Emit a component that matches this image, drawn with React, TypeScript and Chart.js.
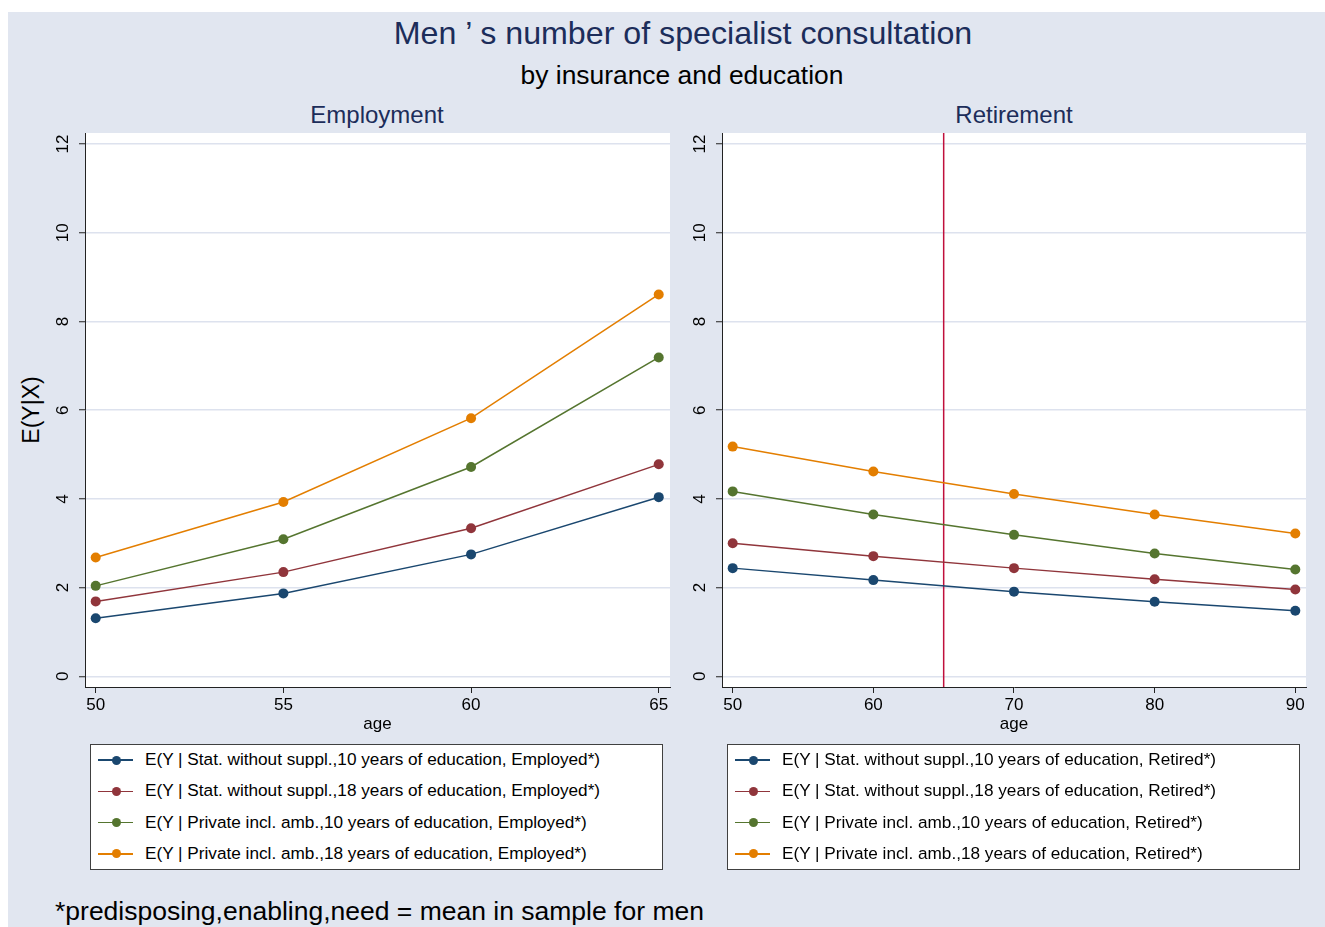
import React, { useEffect, useRef } from "react";
import { Chart, registerables } from "chart.js";
Chart.register(...registerables);

const FONT = '"Liberation Sans", Arial, Helvetica, sans-serif';

// ---- data ----
const employmentAges = [50, 55, 60, 65];
const retirementAges = [50, 60, 70, 80, 90];
const yTickValues = [0, 2, 4, 6, 8, 10, 12];
const retirementAgeLine = 65;

const empStat10 = [1.31, 1.87, 2.75, 4.04];
const empStat18 = [1.69, 2.35, 3.34, 4.78];
const empPriv10 = [2.04, 3.09, 4.72, 7.19];
const empPriv18 = [2.68, 3.93, 5.82, 8.61];

const retStat10 = [2.44, 2.17, 1.91, 1.68, 1.48];
const retStat18 = [3.0, 2.71, 2.44, 2.19, 1.96];
const retPriv10 = [4.17, 3.65, 3.19, 2.77, 2.41];
const retPriv18 = [5.18, 4.62, 4.11, 3.65, 3.22];

const seriesColors = ["#1a476f", "#90353b", "#55752f", "#e37e00"];

const empLabels = [
  "E(Y | Stat. without suppl.,10 years of education, Employed*)",
  "E(Y | Stat. without suppl.,18 years of education, Employed*)",
  "E(Y | Private incl. amb.,10 years of education, Employed*)",
  "E(Y | Private incl. amb.,18 years of education, Employed*)",
];
const retLabels = [
  "E(Y | Stat. without suppl.,10 years of education, Retired*)",
  "E(Y | Stat. without suppl.,18 years of education, Retired*)",
  "E(Y | Private incl. amb.,10 years of education, Retired*)",
  "E(Y | Private incl. amb.,18 years of education, Retired*)",
];

const BG = "#e1e6f0";
const GRID = "#dde2ee";
const AXIS = "#222222";
const NAVY_TEXT = "#1c2d5a";

type PanelProps = {
  left: number;
  width: number;
  yAxisWidth: number;
  padRight: number;
  ages: number[];
  series: number[][];
  labels: string[];
  xMin: number;
  xMax: number;
  xLine?: number;
};

function Panel(props: PanelProps) {
  const ref = useRef<HTMLCanvasElement | null>(null);
  useEffect(() => {
    if (!ref.current) return;
    const { ages, series, labels, xMin, xMax, xLine, yAxisWidth, padRight } = props;
    const plotBg = {
      id: "plotBg",
      beforeDraw(chart: any) {
        const { ctx, chartArea: a } = chart;
        ctx.save();
        ctx.fillStyle = "#ffffff";
        ctx.fillRect(a.left, a.top, a.right - a.left, a.bottom - a.top);
        ctx.restore();
      },
    };
    const vline = {
      id: "vline",
      beforeDatasetsDraw(chart: any) {
        if (xLine === undefined) return;
        const { ctx, chartArea: a } = chart;
        const x = chart.scales.x.getPixelForValue(xLine);
        ctx.save();
        ctx.strokeStyle = "#c0103c";
        ctx.lineWidth = 1.5;
        ctx.beginPath();
        ctx.moveTo(x, a.top);
        ctx.lineTo(x, a.bottom);
        ctx.stroke();
        ctx.restore();
      },
    };
    const yLabels = {
      id: "yLabels",
      afterDraw(chart: any) {
        const { ctx, chartArea: a } = chart;
        const y = chart.scales.y;
        ctx.save();
        ctx.fillStyle = "#000";
        ctx.font = `17px ${FONT}`;
        ctx.textAlign = "center";
        ctx.textBaseline = "middle";
        y.ticks.forEach((t: any) => {
          const py = y.getPixelForValue(t.value);
          ctx.save();
          ctx.translate(a.left - 22, py);
          ctx.rotate(-Math.PI / 2);
          ctx.fillText(String(t.value), 0, 0);
          ctx.restore();
        });
        ctx.restore();
      },
    };
    const chart = new Chart(ref.current, {
      type: "line",
      data: {
        datasets: series.map((s, i) => ({
          label: labels[i],
          data: ages.map((a, j) => ({ x: a, y: s[j] })),
          borderColor: seriesColors[i],
          backgroundColor: seriesColors[i],
          pointBackgroundColor: seriesColors[i],
          pointBorderWidth: 0,
          pointRadius: 5,
          borderWidth: 1.5,
          tension: 0,
        })),
      },
      options: {
        animation: false,
        responsive: false,
        events: [],
        layout: { padding: { top: 8, right: padRight, left: 0, bottom: 0 } },
        plugins: { legend: { display: false }, tooltip: { enabled: false }, title: { display: false } },
        scales: {
          x: {
            type: "linear",
            min: xMin,
            max: xMax,
            afterBuildTicks: (sc: any) => {
              sc.ticks = ages.map((v) => ({ value: v }));
            },
            afterFit: (sc: any) => {
              sc.height = 58;
            },
            grid: {
              drawOnChartArea: false,
              drawTicks: true,
              tickLength: 6,
              tickColor: AXIS,
              tickWidth: 1,
            },
            border: { display: true, color: AXIS, width: 1 },
            ticks: {
              color: "#000",
              font: { family: FONT, size: 17 },
              padding: 2,
              maxRotation: 0,
              minRotation: 0,
              callback: (v: any) => String(v),
            },
            title: {
              display: true,
              text: "age",
              color: "#000",
              font: { family: FONT, size: 17 },
              padding: { top: 0, bottom: 10 },
            },
          },
          y: {
            type: "linear",
            min: -0.24,
            max: 12.25,
            afterBuildTicks: (sc: any) => {
              sc.ticks = yTickValues.map((v) => ({ value: v }));
            },
            afterFit: (sc: any) => {
              sc.width = yAxisWidth;
            },
            grid: {
              color: GRID,
              lineWidth: 1.5,
              drawTicks: true,
              tickLength: 6,
              tickColor: AXIS,
              tickWidth: 1,
            },
            border: { display: true, color: AXIS, width: 1 },
            ticks: { display: false },
          },
        },
      },
      plugins: [plotBg, vline, yLabels],
    });
    return () => chart.destroy();
  }, []);
  return (
    <canvas
      ref={ref}
      width={props.width}
      height={620}
      style={{ position: "absolute", left: props.left, top: 125, width: props.width, height: 620 }}
    />
  );
}

function Legend({ left, labels }: { left: number; labels: string[] }) {
  return (
    <div
      style={{
        position: "absolute",
        left,
        top: 744,
        width: 573,
        height: 126,
        background: "#fff",
        border: "1px solid #404040",
        boxSizing: "border-box",
      }}
    >
      {labels.map((lab, i) => (
        <div key={i} style={{ position: "absolute", left: 0, top: 15 + i * 31.3, width: 1, height: 1 }}>
          <div style={{ position: "absolute", left: 7, top: -0.75, width: 35, height: 1.5, background: seriesColors[i] }} />
          <div
            style={{
              position: "absolute",
              left: 20.5,
              top: -4.5,
              width: 9,
              height: 9,
              borderRadius: "50%",
              background: seriesColors[i],
            }}
          />
          <div
            style={{
              position: "absolute",
              left: 54,
              top: 0,
              transform: "translateY(-50%)",
              fontSize: 17.2,
              lineHeight: 1,
              whiteSpace: "nowrap",
              color: "#000",
            }}
          >
            {lab}
          </div>
        </div>
      ))}
    </div>
  );
}

function CText({ x, y, size, color, children, rotate }: any) {
  return (
    <div
      style={{
        position: "absolute",
        left: x,
        top: y,
        transform: `translate(-50%, -50%)${rotate ? " rotate(-90deg)" : ""}`,
        fontSize: size,
        lineHeight: 1,
        color,
        whiteSpace: "nowrap",
      }}
    >
      {children}
    </div>
  );
}

export default function App() {
  return (
    <div
      style={{
        position: "absolute",
        left: 0,
        top: 0,
        width: 1325,
        height: 927,
        overflow: "hidden",
        fontFamily: FONT,
        background: "#fff",
      }}
    >
      <div style={{ position: "absolute", left: 8, top: 12, width: 1317, height: 915, background: BG }} />
      <CText x={683} y={33} size={32.2} color={NAVY_TEXT}>
        Men ’ s number of specialist consultation
      </CText>
      <CText x={682} y={75} size={26.4} color="#000">
        by insurance and education
      </CText>
      <CText x={377} y={115} size={24} color={NAVY_TEXT}>
        Employment
      </CText>
      <CText x={1014} y={115} size={24} color={NAVY_TEXT}>
        Retirement
      </CText>
      <CText x={31} y={410} size={23} color="#000" rotate>
        E(Y|X)
      </CText>
      <Panel
        left={10}
        width={670}
        yAxisWidth={75}
        padRight={10}
        ages={employmentAges}
        series={[empStat10, empStat18, empPriv10, empPriv18]}
        labels={empLabels}
        xMin={49.715}
        xMax={65.3}
      />
      <Panel
        left={680}
        width={645}
        yAxisWidth={42}
        padRight={19}
        ages={retirementAges}
        series={[retStat10, retStat18, retPriv10, retPriv18]}
        labels={retLabels}
        xMin={49.24}
        xMax={90.76}
        xLine={retirementAgeLine}
      />
      <Legend left={90} labels={empLabels} />
      <Legend left={727} labels={retLabels} />
      <div
        style={{
          position: "absolute",
          left: 55,
          top: 911,
          transform: "translateY(-50%)",
          fontSize: 26.5,
          lineHeight: 1,
          whiteSpace: "nowrap",
          color: "#000",
        }}
      >
        *predisposing,enabling,need = mean in sample for men
      </div>
    </div>
  );
}
